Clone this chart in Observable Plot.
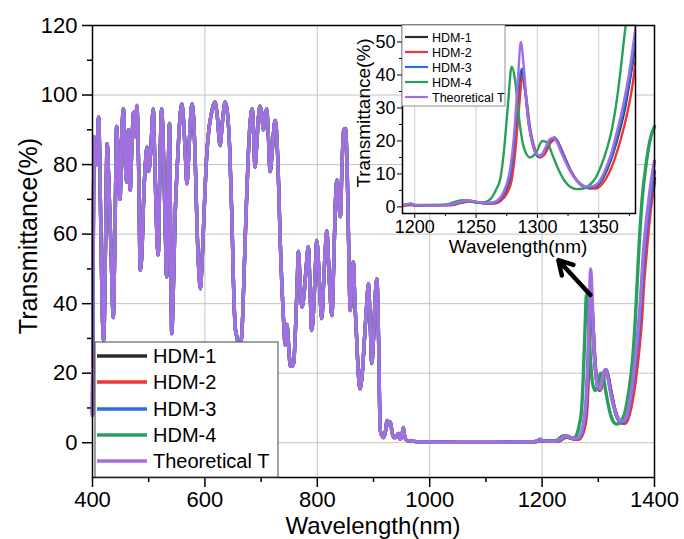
<!DOCTYPE html>
<html><head><meta charset="utf-8">
<script src="https://cdn.jsdelivr.net/npm/d3@7"></script>
<script src="https://cdn.jsdelivr.net/npm/@observablehq/plot@0.6"></script>
<style>
body{margin:0;background:#fff;}
#wrap{position:relative;width:684px;height:539px;font-family:"Liberation Sans",Arial,sans-serif;}
#wrap svg{position:absolute;overflow:visible;}
</style></head><body><div id="wrap"></div>
<script>
// ---------------- data ----------------
const seriesNames = ["HDM-1", "HDM-2", "HDM-3", "HDM-4", "Theoretical T"];
const seriesColors = ["#2b2b2b", "#ee3636", "#2a6fe0", "#27a05c", "#a26fe2"];

// shared part of the spectrum (400-1185 nm), curves coincide here
const sharedWl = [400,401.5,403,405,407,411,414,417,420,423,426,429,433,437,440,443,446,449,452,455,458,461,464,467,470,473,476,479,482,485,488,491,494,497,500,504,508,511,514,517,520,523,526,529,532,535,537,539,541,544,547,551,555,559,563,566,568,571,574,577,580,583,586,589,592,595,599,603,607,612,618,622,627,631,636,640,644,648,651,654,657,660,663,666,669,673,677,681,684,687,689,692,695,698,701,704,707,710,713,716,719,722,725,728,731,734,737,740,743,746,749,752,755,758,761,764,766.5,769,772.6,776,780,784,787,790,794,797,799,802,805,808,811,814,817,820,823,826,829,832,835,838,841,844,847,850,853,856,858.6,861,864,867,870,873,876,880,884,888,891,894,897,900,903,906,909,912,915,918,921,924,927,930,933,936,940,944,947,950,953,956,960,980,1000,1050,1100,1150,1185];
const sharedT = [8,60,88,86,80,93.7,70,40,29.4,55,86,75,55,36,60,91,80,70,88,96,82,75,90,72.6,85,95,88,97,80,49.6,55,70,80,85,78,85,96,80,62,54,80,96,85,65,47.7,80,91.8,60,31.4,45,65,80,92,97.5,90,80,74.5,82,92,97.5,93,80,62,50,44.3,52,68,82,90,95,98,94,85.5,92,98,95,85,65,45,33,30.4,28,28,32,45,65,82,93,96,88,79.3,85,93,96.8,95,90,94,96,88,78,82,89,92.7,88,75,58,45,35,28,34,28,22,22,23,32,45,55,48,39,42,50,56.3,45,32.3,40,52,58.2,52,42,35.7,45,55,61,52,42,36.6,50,68,75.5,70,65,80,90,90.4,80,55,38,45,52,40,30,20,15.5,20,30,40,45.7,35,22.8,30,42,47.2,30,3.5,2,1.5,3,6.4,5,6,3,1.5,1.5,2.7,1,1.5,4.4,1.5,0.6,0.3,0.2,0.1,0.1,0.2,0.3];

// individual parts 1190-1400 nm (also shown in the inset)
const tailWl_HDM1 = [1190,1197,1200,1230,1238,1244,1250,1258,1265,1270,1275,1279,1282,1285,1287.5,1290,1293,1297,1301,1305,1310,1314,1318,1322,1327,1332,1337,1342,1347,1352,1357,1362,1367,1372,1377,1380,1385,1390,1395,1400];
const tailT_HDM1  = [0.4,0.9,0.5,0.6,1.4,1.8,1.5,1.1,1.2,2.2,5.5,11,22,36,41,35,25,18,15.2,16.5,20,21,18.5,15,11,8,6.3,5.7,6,7.8,11.5,16.5,23,31,42,49,58,66,72,76];

const tailWl_HDM2 = [1190,1197,1200,1230,1238,1244,1250,1258,1265,1270,1275,1279,1282,1285,1288,1291,1294,1298,1302,1306,1311,1315,1319,1323,1328,1333,1338,1343,1348,1353,1358,1363,1368,1373,1378,1380,1385,1390,1395,1400];
const tailT_HDM2  = [0.3,0.6,0.4,0.5,1.2,1.6,1.4,1.0,1.0,1.8,4,8,17,30,40,33,24,17.5,15,16,19.5,20.5,18,14.5,10.5,7.8,6.2,5.6,5.6,7,10,14.5,20.5,28,38,44,54,63,70,75];

const tailWl_HDM3 = [1190,1197,1200,1230,1238,1244,1250,1258,1265,1270,1275,1279,1282,1285,1287.5,1290,1293,1297,1301,1305,1310,1314,1318,1322,1327,1332,1337,1342,1347,1352,1357,1362,1367,1372,1377,1380,1385,1390,1395,1400];
const tailT_HDM3  = [0.4,0.8,0.5,0.6,1.5,1.9,1.5,1.1,1.3,2.5,6,12,24,38,42,36,26,18,15.2,16.5,20,21,18.5,15,11,8,6.3,5.8,6.2,8,12,17,24,32,43,51,60,67,73,78];

const tailWl_HDM4 = [1190,1197,1200,1220,1228,1234,1240,1246,1252,1258,1262,1266,1270,1273,1276,1279,1282,1285,1289,1294,1299,1304,1308,1312,1317,1322,1327,1332,1337,1342,1347,1352,1357,1361,1365,1368,1371,1373,1378,1385,1392,1400];
const tailT_HDM4  = [0.5,1.0,0.6,0.5,0.9,1.7,2.0,1.6,1.2,1.5,2.5,5,9,18,31,42.5,38,27,18,15,16.5,20,19.5,16,11.5,8,6,5.4,5.5,6.5,8.5,12.5,18,24,33,42,52,58,70,80,87,91];

const tailWl_Theo = [1190,1197,1200,1210,1220,1230,1238,1244,1250,1258,1265,1270,1275,1278,1281,1284,1286.5,1289,1292,1296,1300,1303,1306,1310,1313,1316,1320,1325,1330,1335,1340,1345,1350,1355,1360,1365,1370,1375,1380,1385,1390,1395,1400];
const tailT_Theo  = [0.5,1.0,0.6,0.4,0.4,0.8,1.6,2.0,1.6,1.2,1.5,3,7,12,22,38,50,42,28,19,15.8,15.5,17.5,20.5,21,19.5,16,12,9,7,6.2,6.3,7.5,11,16,23,31,41,54,63,70,76,81];

const tailWls = [tailWl_HDM1, tailWl_HDM2, tailWl_HDM3, tailWl_HDM4, tailWl_Theo];
const tailTs  = [tailT_HDM1, tailT_HDM2, tailT_HDM3, tailT_HDM4, tailT_Theo];

// axis ticks
const mainXTicks = [400, 600, 800, 1000, 1200, 1400];
const mainXMinor = [500, 700, 900, 1100, 1300];
const mainYTicks = [0, 20, 40, 60, 80, 100, 120];
const mainYMinor = [10, 30, 50, 70, 90, 110];
const insetXTicks = [1200, 1250, 1300, 1350];
const insetXMinor = [1225, 1275, 1325, 1375];
const insetYTicks = [0, 10, 20, 30, 40, 50];
const insetYMinor = [5, 15, 25, 35, 45];

// annotation arrow (data coordinates)
const arrowFrom = [1286, 42.5];
const arrowTo = [1229, 52.5];

// ---------------- build ----------------
const FONT = '"Liberation Sans", Arial, sans-serif';
const fmt = d => String(d);
const blank = () => "";
const sharedRows = sharedWl.map((w, i) => ({wl: w, t: sharedT[i]}));
const seriesRows = seriesNames.map((name, s) =>
  sharedRows.concat(tailWls[s].map((w, i) => ({wl: w, t: tailTs[s][i]}))).map(d => ({...d, name})));
const tailRows = seriesNames.map((name, s) => tailWls[s].map((w, i) => ({wl: w, t: tailTs[s][i], name})));

const wrap = document.getElementById("wrap");

const main = Plot.plot({
  width: 684, height: 539,
  marginLeft: 92, marginRight: 30, marginTop: 25, marginBottom: 62,
  style: {fontFamily: FONT, fontSize: "22px", color: "#000", background: "transparent", overflow: "visible"},
  x: {domain: [400, 1400]},
  y: {domain: [-10, 120]},
  marks: [
    Plot.gridX(mainXTicks.slice(1, -1), {stroke: "#c4c4c4", strokeOpacity: 1, strokeWidth: 1}),
    Plot.gridY(mainYTicks.slice(0, -1), {stroke: "#c4c4c4", strokeOpacity: 1, strokeWidth: 1}),
    Plot.axisX(mainXTicks, {tickSize: 10, tickPadding: 4, label: null, strokeWidth: 1.5, tickFormat: fmt}),
    Plot.axisX(mainXMinor, {tickSize: 5, label: null, tickFormat: blank, strokeWidth: 1.5}),
    Plot.axisY(mainYTicks, {tickSize: 10, tickPadding: 5, label: null, strokeWidth: 1.5, tickFormat: fmt}),
    Plot.axisY(mainYMinor, {tickSize: 5, label: null, tickFormat: blank, strokeWidth: 1.5}),
    ...seriesRows.map((rows, s) => Plot.line(rows, {x: "wl", y: "t", stroke: seriesColors[s], strokeWidth: 3.4, curve: "monotone-x"})),
    Plot.frame({stroke: "#000", strokeWidth: 1.5}),
    Plot.arrow([{x1: arrowFrom[0], y1: arrowFrom[1], x2: arrowTo[0], y2: arrowTo[1]}],
      {x1: "x1", y1: "y1", x2: "x2", y2: "y2", stroke: "#000", strokeWidth: 4.5, headLength: 12, headAngle: 60})
  ]
});
main.style.left = "0px"; main.style.top = "0px";
wrap.appendChild(main);

// titles and legend of the main chart
const ms = d3.select(main);
ms.append("text").attr("x", 373).attr("y", 534).attr("text-anchor", "middle")
  .style("font-family", FONT).style("font-size", "24px").attr("fill", "#000").text("Wavelength(nm)");
ms.append("text").attr("transform", "translate(37,236) rotate(-90)").attr("text-anchor", "middle")
  .style("font-family", FONT).style("font-size", "25px").attr("fill", "#000").text("Transmittance(%)");
const lg = ms.append("g");
lg.append("rect").attr("x", 95).attr("y", 342).attr("width", 183).attr("height", 135)
  .attr("fill", "#fff").attr("stroke", "#444").attr("stroke-width", 1);
const legY = [356, 382, 409, 435, 461];
seriesNames.forEach((n, i) => {
  lg.append("line").attr("x1", 97).attr("x2", 147).attr("y1", legY[i]).attr("y2", legY[i])
    .attr("stroke", seriesColors[i]).attr("stroke-width", 3.5);
  lg.append("text").attr("x", 153).attr("y", legY[i]).attr("dy", "0.36em").attr("text-anchor", "start")
    .style("font-family", FONT).style("font-size", "20px").attr("fill", "#000").text(n);
});

// ---------------- inset ----------------
const inset = Plot.plot({
  width: 310, height: 260,
  marginLeft: 62, marginRight: 15, marginTop: 25, marginBottom: 47,
  style: {fontFamily: FONT, fontSize: "18px", color: "#000", background: "transparent", overflow: "visible"},
  x: {domain: [1190, 1380]},
  y: {domain: [-2, 55]},
  marks: [
    Plot.frame({fill: "#fff", stroke: "none"}),
    Plot.gridX(insetXTicks, {stroke: "#cfcfcf", strokeOpacity: 1}),
    Plot.axisX(insetXTicks, {tickSize: 5, tickPadding: 2, label: null, tickFormat: fmt}),
    Plot.axisX(insetXMinor, {tickSize: 3, label: null, tickFormat: blank}),
    Plot.axisY(insetYTicks, {tickSize: 5, tickPadding: 2, label: null, tickFormat: fmt}),
    Plot.axisY(insetYMinor, {tickSize: 3, label: null, tickFormat: blank}),
    ...tailRows.map((rows, s) => Plot.line(rows, {x: "wl", y: "t", stroke: seriesColors[s], strokeWidth: 2.4, curve: "monotone-x", clip: true})),
    Plot.frame({stroke: "#000", strokeWidth: 1.5})
  ]
});
inset.style.left = "340px"; inset.style.top = "0px";
wrap.appendChild(inset);
const is = d3.select(inset);
is.append("text").attr("x", 178).attr("y", 253).attr("text-anchor", "middle")
  .style("font-family", FONT).style("font-size", "19px").attr("fill", "#000").text("Wavelength(nm)");
is.append("text").attr("transform", "translate(30,113) rotate(-90)").attr("text-anchor", "middle")
  .style("font-family", FONT).style("font-size", "19px").attr("fill", "#000").text("Transmittance(%)");
const ilg = is.append("g");
ilg.append("rect").attr("x", 62).attr("y", 25).attr("width", 103).attr("height", 81)
  .attr("fill", "#fff").attr("stroke", "#777").attr("stroke-width", 0.8);
const iLegY = [37, 52, 67, 82, 97];
seriesNames.forEach((n, i) => {
  ilg.append("line").attr("x1", 65).attr("x2", 88).attr("y1", iLegY[i]).attr("y2", iLegY[i])
    .attr("stroke", seriesColors[i]).attr("stroke-width", 2.2);
  ilg.append("text").attr("x", 92).attr("y", iLegY[i]).attr("dy", "0.36em").attr("text-anchor", "start")
    .style("font-family", FONT).style("font-size", "12.5px").attr("fill", "#000").text(n);
});
</script></body></html>
